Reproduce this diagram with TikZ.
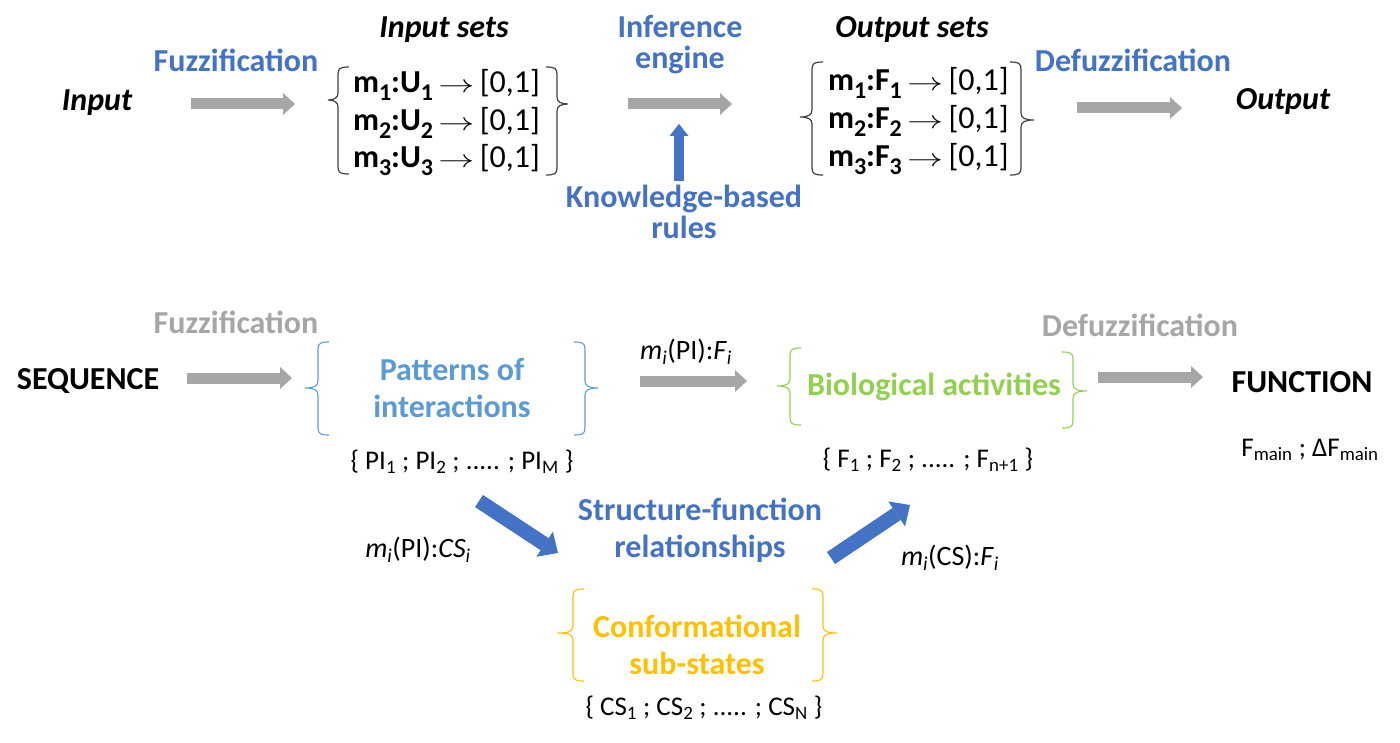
\documentclass[tikz,border=0pt]{standalone}
\usepackage{fontspec}
\usepackage{graphicx}
\setmainfont{Carlito}
\usetikzlibrary{arrows.meta}
\definecolor{pblue}{HTML}{4472C4}
\definecolor{lblue}{HTML}{5B9BD5}
\definecolor{pgreen}{HTML}{92D050}
\definecolor{pgold}{HTML}{FFC000}
\definecolor{pgray}{HTML}{A6A6A6}
\definecolor{bgray}{HTML}{404040}
% left bracket: style, x, top, bottom, tipx, tipy
\newcommand{\lbrk}[6]{\draw[#1] (#2+11,#3) .. controls (#2+3,#3) and (#2,#3+1) .. (#2,#3+7) -- (#2,#6-7) .. controls (#2,#6-2) and (#2-4,#6) .. (#5,#6) .. controls (#2-4,#6) and (#2,#6+2) .. (#2,#6+7) -- (#2,#4-7) .. controls (#2,#4-1) and (#2+3,#4) .. (#2+11,#4);}
\newcommand{\rbrk}[6]{\draw[#1] (#2-11,#3) .. controls (#2-3,#3) and (#2,#3+1) .. (#2,#3+7) -- (#2,#6-7) .. controls (#2,#6-2) and (#2+4,#6) .. (#5,#6) .. controls (#2+4,#6) and (#2,#6+2) .. (#2,#6+7) -- (#2,#4-7) .. controls (#2,#4-1) and (#2-3,#4) .. (#2-11,#4);}
\newcommand{\sbb}[1]{\raisebox{-0.22em}{\fontsize{24}{24}\selectfont #1}}
\newcommand{\maparrow}{\,\scalebox{1.45}[1]{$\rightarrow$}\,}
\begin{document}
\begin{tikzpicture}[x=1pt,y=-1pt,
  every node/.style={inner sep=0pt, outer sep=0pt, align=center},
  big/.style={font=\bfseries\fontsize{32}{31}\selectfont},
  bigit/.style={font=\bfseries\itshape\fontsize{32}{31}\selectfont},
  bigb/.style={font=\bfseries\fontsize{32}{37}\selectfont},
  setl/.style={anchor=base west, font=\fontsize{32}{38}\selectfont},
  small/.style={font=\fontsize{27}{32}\selectfont},
  garrow/.style={draw=pgray, line width=11pt, -{Triangle[length=12pt,width=22pt,line width=0pt]}},
  barrow/.style={draw=pblue, line width=14.5pt, -{Triangle[length=16pt,width=30pt,line width=0pt]}},
  uarrow/.style={draw=pblue, line width=10pt, -{Triangle[length=12pt,width=19pt,line width=0pt]}},
  tbr/.style={draw=bgray, line width=1.2pt},
]
\useasboundingbox (0,0) rectangle (1400,743);

% ---------- top row ----------
\node[bigit] (in) at (97,103) {Input};
\node[big, text=pblue] (fz) at (236,60) {Fuzzification};
\node[bigit] (ins) at (444,30) {Input sets};
\node[setl] (i1) at (353,93) {\textbf{m\sbb{1}:U\sbb{1}}\maparrow[0,1]};
\node[setl] (i2) at (353,131) {\textbf{m\sbb{2}:U\sbb{2}}\maparrow[0,1]};
\node[setl] (i3) at (353,168) {\textbf{m\sbb{3}:U\sbb{3}}\maparrow[0,1]};
\lbrk{tbr}{338}{67}{174}{328}{100}
\rbrk{tbr}{557}{67}{175}{568}{104}
\node[big, text=pblue] (ie) at (680,45) {Inference\\engine};
\node[big, text=pblue] (kb) at (684,212) {Knowledge-based\\rules};
\node[bigit] (outs) at (912,30) {Output sets};
\node[setl] (o1) at (828,91) {\textbf{m\sbb{1}:F\sbb{1}}\maparrow[0,1]};
\node[setl] (o2) at (828,129) {\textbf{m\sbb{2}:F\sbb{2}}\maparrow[0,1]};
\node[setl] (o3) at (828,167) {\textbf{m\sbb{3}:F\sbb{3}}\maparrow[0,1]};
\lbrk{tbr}{812}{62}{175}{800}{117}
\rbrk{tbr}{1021}{62}{175}{1034}{120}
\node[big, text=pblue] (dfz) at (1133,60) {Defuzzification};
\node[bigit] (out) at (1283,102) {Output};

\coordinate (a1s) at (191,104); \coordinate (a1e) at (295,104);
\coordinate (a2s) at (628,104); \coordinate (a2e) at (732,104);
\coordinate (a3s) at (1077,108); \coordinate (a3e) at (1182,108);
\coordinate (ks) at (679,181); \coordinate (ke) at (679,124);
\draw[garrow] (a1s) -- (a1e);
\draw[garrow] (a2s) -- (a2e);
\draw[garrow] (a3s) -- (a3e);
\draw[uarrow] (ks) -- (ke);

% ---------- bottom ----------
\node[big, text=pgray] (fz2) at (236,322) {Fuzzification};
\node[big] (seq) at (88,381) {SEQUENCE};
\node[bigb, text=lblue] (pat) at (452,388) {Patterns of\\interactions};
\lbrk{draw=lblue, line width=1.1pt}{318}{342}{435}{305}{388}
\rbrk{draw=lblue, line width=1.1pt}{585}{342}{435}{598}{388}
\node[small] (pis) at (462,462) {\{ PI\textsubscript{1} ; PI\textsubscript{2} ; ..... ; PI\textsubscript{M} \}};
\node[font=\fontsize{28}{32}\selectfont] (mpf) at (686,352) {\textit{m}\textsubscript{\textit{i}}(PI):\textit{F}\textsubscript{\textit{i}}};
\node[big, text=pgreen] (bio) at (934,387) {Biological activities};
\lbrk{draw=pgreen, line width=1.1pt}{790}{348}{425}{777}{386}
\rbrk{draw=pgreen, line width=1.1pt}{1073}{352}{428}{1087}{391}
\node[small] (fs) at (928,460) {\{ F\textsubscript{1} ; F\textsubscript{2} ; ..... ; F\textsubscript{n+1} \}};
\node[big, text=pgray] (dfz2) at (1140,325) {Defuzzification};
\node[big] (fun) at (1302,382) {FUNCTION};
\node[small] (fm) at (1310,450) {F\textsubscript{main} ; ΔF\textsubscript{main}};
\node[font=\fontsize{28}{32}\selectfont] (mpc) at (418,550) {\textit{m}\textsubscript{\textit{i}}(PI):\textit{CS}\textsubscript{\textit{i}}};
\node[bigb, text=pblue] (sfr) at (700,530) {Structure-function\\relationships};
\node[font=\fontsize{28}{32}\selectfont] (mcf) at (950,558) {\textit{m}\textsubscript{\textit{i}}(CS):\textit{F}\textsubscript{\textit{i}}};
\node[bigb, text=pgold] (conf) at (697,645) {Conformational\\sub-states};
\lbrk{draw=pgold, line width=1.1pt}{573}{589}{681}{558}{633}
\rbrk{draw=pgold, line width=1.1pt}{823}{589}{681}{837}{633}
\node[small] (css) at (704,708) {\{ CS\textsubscript{1} ; CS\textsubscript{2} ; ..... ; CS\textsubscript{N} \}};

\coordinate (b1s) at (187,378); \coordinate (b1e) at (292,378);
\coordinate (b2s) at (640,381); \coordinate (b2e) at (747,381);
\coordinate (b3s) at (1098,377); \coordinate (b3e) at (1203,377);
\coordinate (d1s) at (479,501); \coordinate (d1e) at (558,553);
\coordinate (d2s) at (831,558); \coordinate (d2e) at (910,505);
\draw[garrow] (b1s) -- (b1e);
\draw[garrow] (b2s) -- (b2e);
\draw[garrow] (b3s) -- (b3e);
\draw[barrow] (d1s) -- (d1e);
\draw[barrow] (d2s) -- (d2e);
\end{tikzpicture}
\end{document}
